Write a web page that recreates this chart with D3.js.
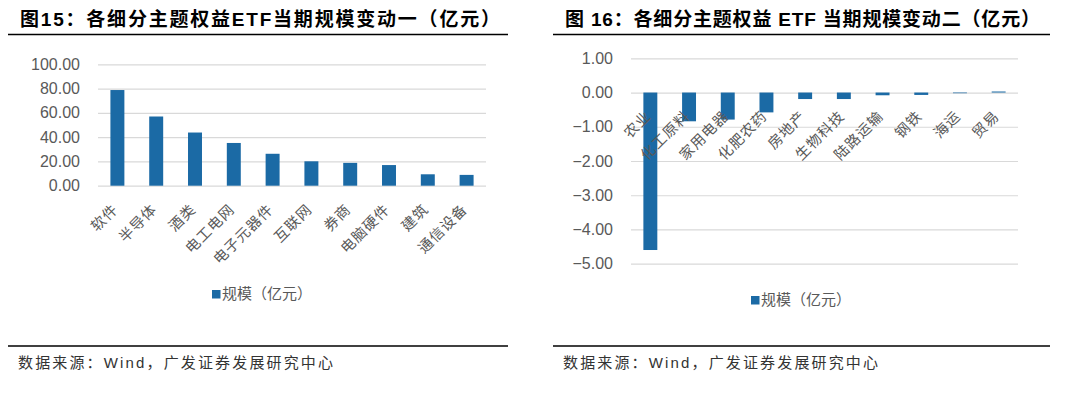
<!DOCTYPE html>
<html><head><meta charset="utf-8">
<script src="https://cdn.jsdelivr.net/npm/d3@7"></script>
<style>
html,body{margin:0;padding:0;background:#fff;}
svg{display:block;}
</style></head>
<body>
<svg id="c" width="1080" height="395"></svg>
<script>
// ---- data ----
const cats1 = ["软件","半导体","酒类","电工电网","电子元器件","互联网","券商","电脑硬件","建筑","通信设备"];
const vals1 = [78.8, 57.0, 43.8, 35.2, 26.3, 20.1, 18.8, 17.0, 9.4, 8.9];
const ticks1 = [0, 20, 40, 60, 80, 100];

const cats2 = ["农业","化工原料","家用电器","化肥农药","房地产","生物科技","陆路运输","钢铁","海运","贸易"];
const vals2 = [-4.60, -0.84, -0.79, -0.58, -0.19, -0.19, -0.08, -0.07, -0.02, 0.03];
const ticks2 = [1, 0, -1, -2, -3, -4, -5];

const title1 = "图15：各细分主题权益ETF当期规模变动一（亿元）";
const title2 = "图 16：各细分主题权益 ETF 当期规模变动二（亿元）";
const legendLabel = "规模（亿元）";
const sourceText = "数据来源：Wind，广发证券发展研究中心";

const BAR = "#1b6aa5", GRID = "#d9d9d9", TXT = "#595959";
const NUM_FONT = "'Liberation Sans', Arial, sans-serif";
const CJK_FONT = "'Liberation Sans', 'Noto Sans CJK SC', sans-serif";

const svg = d3.select("#c");

function panel(cfg) {
  const g = svg.append("g");
  // title
  g.append("text").attr("x", cfg.titleX).attr("y", 26)
    .attr("font-family", CJK_FONT).attr("font-weight", "bold").attr("font-size", 19)
    .attr("textLength", cfg.titleLen).attr("lengthAdjust", "spacing")
    .attr("fill", "#000").text(cfg.title);
  g.append("line").attr("x1", cfg.lineX1).attr("x2", cfg.lineX2).attr("y1", 34.5).attr("y2", 34.5)
    .attr("stroke", "#000").attr("stroke-width", 1.3);
  g.append("line").attr("x1", cfg.lineX1).attr("x2", cfg.lineX2).attr("y1", 346).attr("y2", 346)
    .attr("stroke", "#000").attr("stroke-width", 1.3);
  g.append("text").attr("x", cfg.srcX).attr("y", 368)
    .attr("font-family", CJK_FONT).attr("font-size", 15).attr("fill", "#333")
    .attr("textLength", 315).attr("lengthAdjust", "spacing").text(sourceText);

  const x = d3.scaleBand().domain(cfg.cats).range([cfg.x0, cfg.x1]).paddingInner(0.64).paddingOuter(0.32);
  const y = d3.scaleLinear().domain(cfg.domain).range([cfg.yBottom, cfg.yTop]);

  // gridlines
  const yAxis = d3.axisLeft(y).tickValues(cfg.ticks).tickSize(-(cfg.x1 - cfg.x0)).tickPadding(18)
    .tickFormat(d3.format(".2f"));
  const ag = g.append("g").attr("transform", `translate(${cfg.x0},0)`).call(yAxis);
  ag.select(".domain").remove();
  ag.selectAll(".tick line").attr("stroke", GRID).attr("stroke-width", 1.2);
  ag.selectAll(".tick text").attr("font-family", NUM_FONT).attr("font-size", 16).attr("fill", TXT);

  // bars
  g.append("g").selectAll("rect").data(cfg.vals).join("rect")
    .attr("x", (d, i) => x(cfg.cats[i]))
    .attr("width", x.bandwidth())
    .attr("y", d => y(Math.max(0, d)))
    .attr("height", d => Math.abs(y(d) - y(0)))
    .attr("fill", BAR);

  // category labels
  const y0 = y(0);
  g.append("g").selectAll("text").data(cfg.cats).join("text")
    .attr("transform", d => `translate(${x(d) + x.bandwidth() / 2 - 8},${y0 + 15}) rotate(-45)`)
    .attr("text-anchor", "end").attr("dominant-baseline", "hanging")
    .attr("font-family", "'Noto Sans CJK SC', sans-serif").attr("font-size", 14.5)
    .attr("letter-spacing", 1).attr("fill", TXT)
    .text(d => d);

  // legend
  g.append("rect").attr("x", cfg.legX).attr("y", cfg.legY - 4).attr("width", 8.5).attr("height", 8.5).attr("fill", BAR);
  g.append("text").attr("x", cfg.legX + 10).attr("y", cfg.legY + 1)
    .attr("dominant-baseline", "middle")
    .attr("font-family", "'Noto Sans CJK SC', sans-serif").attr("font-size", 15).attr("fill", TXT)
    .attr("textLength", 90).attr("lengthAdjust", "spacing")
    .text(legendLabel);
}

panel({
  title: title1, titleX: 20, titleLen: 480, lineX1: 8, lineX2: 508, srcX: 18,
  cats: cats1, vals: vals1, ticks: ticks1, domain: [0, 100],
  x0: 98, x1: 486, yBottom: 185.7, yTop: 64.3,
  legX: 212, legY: 294
});
panel({
  title: title2, titleX: 565, titleLen: 475, lineX1: 553, lineX2: 1050, srcX: 563,
  cats: cats2, vals: vals2, ticks: ticks2, domain: [-5, 1],
  x0: 631, x1: 1018, yBottom: 263.7, yTop: 58.3,
  legX: 751, legY: 300
});
</script>
</body></html>
